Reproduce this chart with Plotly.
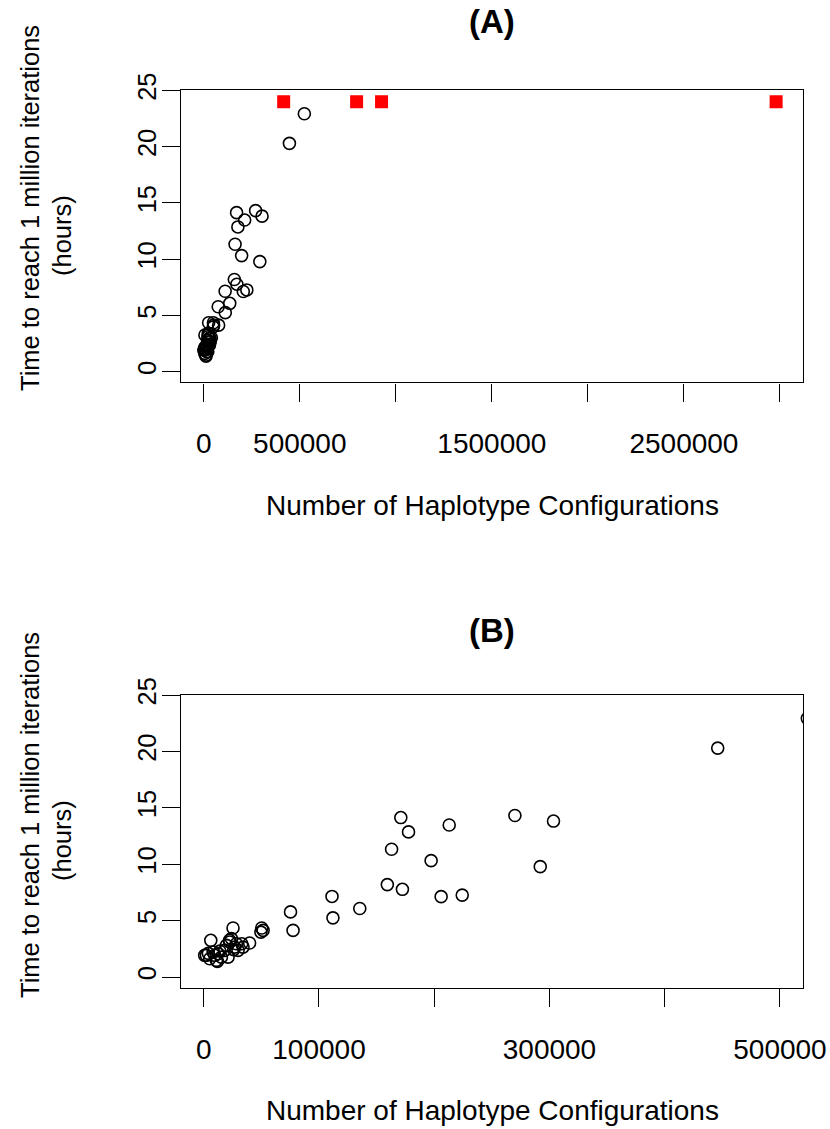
import plotly.graph_objects as go

# ---- data ----
config_counts = [523800, 446000, 270000, 303500, 171000, 177700, 213000, 163000,
                 197300, 292000, 159300, 172400, 206000, 224300, 111300, 112100,
                 135400, 75300, 77500, 50300, 51500, 49600, 25400, 6100, 24000,
                 22500, 19700, 26800, 28300, 29800, 34100, 39800, 2300, 5200,
                 8100, 11000, 12400, 9500, 15300, 18200, 21100, 4000, 14000,
                 33000, 26000, 22400, 11800, 800]
hours = [22.93, 20.30, 14.32, 13.83, 14.14, 12.87, 13.48, 11.33,
         10.32, 9.79, 8.20, 7.78, 7.13, 7.27, 7.15, 5.25,
         6.08, 5.78, 4.14, 4.35, 4.14, 3.99, 4.35, 3.26, 3.41,
         3.11, 2.81, 2.66, 2.96, 2.37, 2.66, 3.02, 1.93, 1.63,
         2.22, 1.48, 2.07, 1.93, 1.77, 2.37, 1.77, 2.10, 2.30,
         2.96, 2.43, 3.26, 1.39, 1.93]

unfinished_counts = [416100, 795800, 925800, 2980000]
unfinished_hours = [24, 24, 24, 24]

xticks_a = [0, 500000, 1000000, 1500000, 2000000, 2500000, 3000000]
xtext_a = ["0", "500000", "", "1500000", "", "2500000", ""]
xticks_b = [0, 100000, 200000, 300000, 400000, 500000]
xtext_b = ["0", "100000", "", "300000", "", "500000"]
yticks = [0, 5, 10, 15, 20, 25]
ytext = ["0", "5", "10", "15", "20", "25"]

W, H = 830, 1129
FONT = "Liberation Sans, Arial, Helvetica, sans-serif"
FS_V = 25.5   # text running vertically
FS_H = 28     # text running horizontally

fig = go.Figure()

circle_style = dict(symbol="circle-open", size=12, color="black",
                    line=dict(width=1.6, color="black"))

fig.add_trace(go.Scatter(x=config_counts, y=hours, mode="markers",
                         marker=circle_style, xaxis="x", yaxis="y",
                         showlegend=False))
fig.add_trace(go.Scatter(x=unfinished_counts, y=unfinished_hours, mode="markers",
                         marker=dict(symbol="square", size=13, color="#FF0000",
                                     line=dict(width=0)),
                         xaxis="x", yaxis="y", showlegend=False))
fig.add_trace(go.Scatter(x=config_counts, y=hours, mode="markers",
                         marker=circle_style, xaxis="x2", yaxis="y2",
                         showlegend=False))

def px_dom_x(a, b):
    return [a / W, b / W]

def px_dom_y(top, bottom):
    return [1 - bottom / H, 1 - top / H]

axis_common = dict(showgrid=False, zeroline=False, showline=True, mirror=True,
                   linecolor="black", linewidth=1.4, ticks="outside",
                   ticklen=18, tickwidth=1.4, tickcolor="black",
                   automargin=False)
xfont = dict(family=FONT, size=FS_H, color="black")
yfont = dict(family=FONT, size=FS_V, color="black")

fig.update_layout(
    template="none",
    width=W, height=H,
    margin=dict(l=0, r=0, t=0, b=0, pad=0),
    paper_bgcolor="white", plot_bgcolor="white",
    font=dict(family=FONT, size=FS_V, color="black"),
    xaxis=dict(domain=px_dom_x(180.7, 803), range=[-120000, 3120000],
               tickmode="array", tickvals=xticks_a, ticktext=xtext_a,
               tickfont=xfont, ticklabelstandoff=18, anchor="y", **axis_common),
    yaxis=dict(domain=px_dom_y(90.4, 382.3), range=[-0.94, 25.005],
               tickmode="array", tickvals=yticks, ticktext=ytext,
               tickfont=yfont, tickangle=-90, ticklabelstandoff=-5,
               anchor="x", **axis_common),
    xaxis2=dict(domain=px_dom_x(180.7, 803), range=[-20000, 520000],
                tickmode="array", tickvals=xticks_b, ticktext=xtext_b,
                tickfont=xfont, ticklabelstandoff=18, anchor="y2", **axis_common),
    yaxis2=dict(domain=px_dom_y(695, 987.7), range=[-0.94, 25.005],
                tickmode="array", tickvals=yticks, ticktext=ytext,
                tickfont=yfont, tickangle=-90, ticklabelstandoff=-5,
                anchor="x2", **axis_common),
)

def ann(text, x, y, size, angle=0, bold=False):
    if bold:
        text = "<b>" + text + "</b>"
    fig.add_annotation(text=text, x=x / W, y=1 - y / H, xref="paper", yref="paper",
                       showarrow=False, textangle=angle, xanchor="center",
                       yanchor="middle",
                       font=dict(family=FONT, size=size, color="black"))

# titles
ann("(A)", 492, 22, 33, bold=True)
ann("(B)", 492, 630, 33, bold=True)
# x axis titles
ann("Number of Haplotype Configurations", 492, 505, FS_H)
ann("Number of Haplotype Configurations", 492, 1110, FS_H)
# y axis titles
ann("Time to reach 1 million iterations", 30, 208, FS_V, angle=-90)
ann("(hours)", 62, 236, FS_V, angle=-90)
ann("Time to reach 1 million iterations", 30, 815, FS_V, angle=-90)
ann("(hours)", 62, 841, FS_V, angle=-90)

fig.write_html("out.html")
